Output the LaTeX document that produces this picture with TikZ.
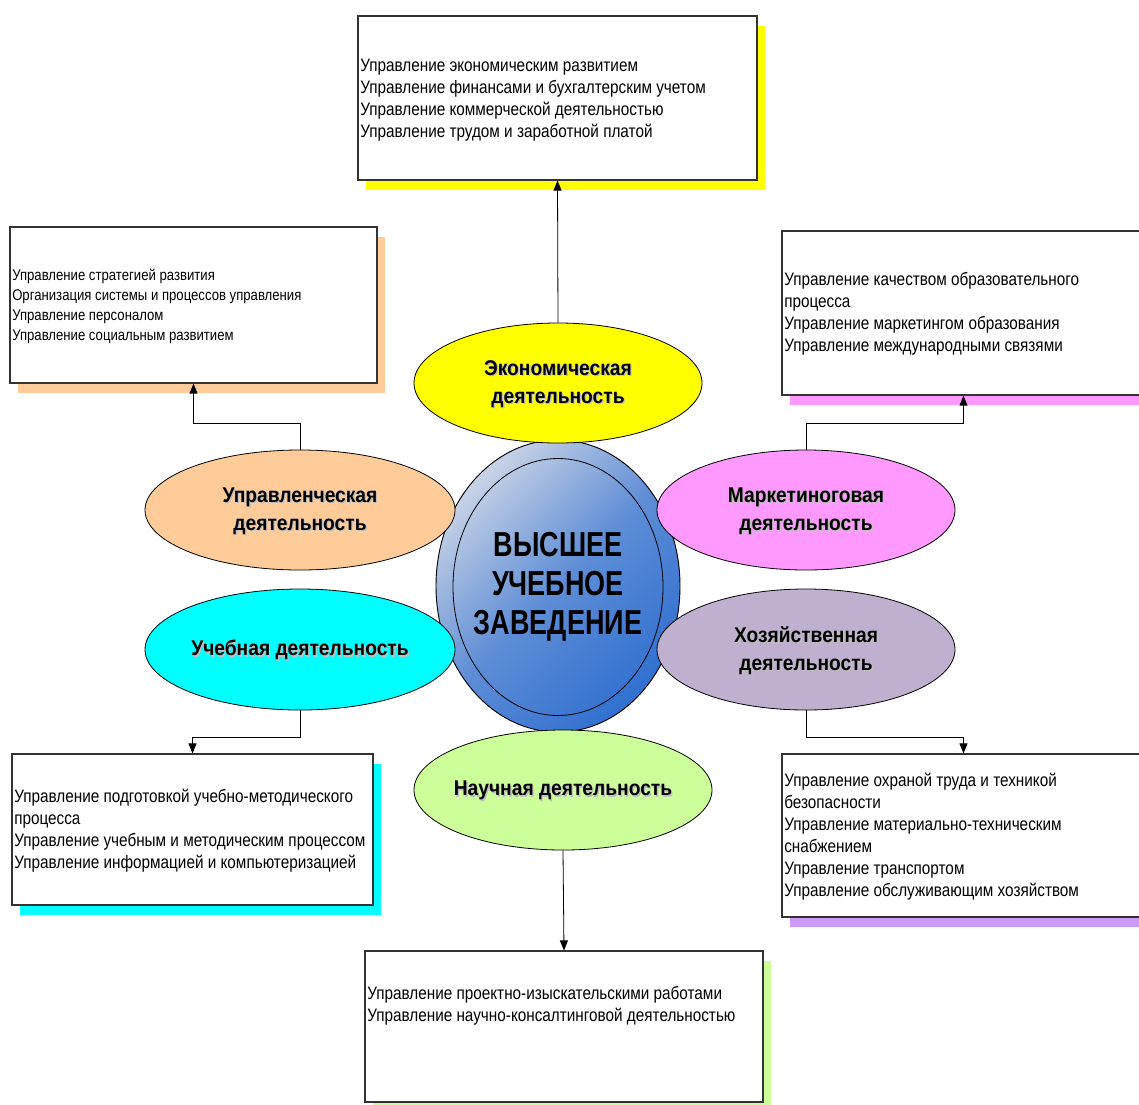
\documentclass[tikz,border=0pt]{standalone}
\usepackage{fontspec}
\setmainfont{Liberation Sans}[FakeStretch=0.85]
\newfontfamily\labelfont{Liberation Sans}[FakeStretch=0.9]
\newfontfamily\titlefont{Liberation Sans}[FakeStretch=0.78]
\usetikzlibrary{shapes.geometric,arrows.meta,shadows}

\newlength\pxu
\setlength\pxu{0.75pt}

\definecolor{econfill}{HTML}{FFFF00}
\definecolor{mgmtfill}{HTML}{FFCC99}
\definecolor{mktfill}{HTML}{FF99FF}
\definecolor{studyfill}{HTML}{00FFFF}
\definecolor{housefill}{HTML}{BFB0D0}
\definecolor{houseshadow}{HTML}{CC99FF}
\definecolor{scifill}{HTML}{CCFF99}
\definecolor{heilight}{HTML}{C8D3E6}
\definecolor{heimid}{HTML}{5E8DD6}
\definecolor{heidark}{HTML}{3170D0}

% centred line of zero width, so the ellipse keeps its own size
\newcommand\midline[1]{\makebox[0pt]{#1}}
% bold label line with a faint grey drop behind it
\newcommand\shadowed[1]{\makebox[0pt]{\rlap{\kern1pt\raisebox{-1pt}{\color{black!25}#1}}#1}}

\tikzset{
  infobox/.style={rectangle, draw=black!80, line width=0.9pt, fill=white, inner sep=0pt,
    drop shadow={fill=#1, opacity=1, shadow xshift=6pt, shadow yshift=-7.5pt}},
  boxtext/.style={anchor=west, align=left, inner sep=0pt,
    font=\fontsize{13.5}{16.5}\selectfont},
  smalltext/.style={anchor=west, align=left, inner sep=0pt,
    font=\fontsize{11.6}{15}\selectfont},
  activity/.style={ellipse, draw=black, line width=0.6pt, fill=#1, inner sep=0pt,
    align=center, font=\labelfont\bfseries\fontsize{16}{21}\selectfont},
  actlabel/.style={align=center, inner sep=0pt,
    font=\labelfont\bfseries\fontsize{16}{21}\selectfont},
  link/.style={draw=black, line width=0.6pt, -{Triangle[length=7.5pt,width=6pt]}}
}

\begin{document}
\begin{tikzpicture}[x=0.75pt,y=-0.75pt]
\useasboundingbox (0,0) rectangle (1139,1104);
\clip (0,0) rectangle (1139,1104);

% ---- information boxes ----
\node[infobox=econfill, minimum width=399\pxu, minimum height=164\pxu] (econbox) at (557.5,98) {};
\node[boxtext] (econtext) at (360,100) {Управление экономическим развитием\\
Управление финансами и бухгалтерским учетом\\
Управление коммерческой деятельностью\\
Управление трудом и заработной платой};

\node[infobox=mgmtfill, minimum width=367\pxu, minimum height=156\pxu] (mgmtbox) at (193.5,305) {};
\node[smalltext] (mgmttext) at (12,306) {Управление стратегией развития\\
Организация системы и процессов управления\\
Управление персоналом\\
Управление социальным развитием};

\node[infobox=mktfill, minimum width=363\pxu, minimum height=164\pxu] (mktbox) at (963.5,313) {};
\node[boxtext] (mkttext) at (784,314) {Управление качеством образовательного\\
процесса\\
Управление маркетингом образования\\
Управление международными связями};

\node[infobox=studyfill, minimum width=361\pxu, minimum height=151\pxu] (studybox) at (192.5,829.5) {};
\node[boxtext] (studytext) at (14,830.5) {Управление подготовкой учебно-методического\\
процесса\\
Управление учебным и методическим процессом\\
Управление информацией и компьютеризацией};

\node[infobox=houseshadow, minimum width=363\pxu, minimum height=163\pxu] (housebox) at (963.5,835.5) {};
\node[boxtext] (housetext) at (784,837) {Управление охраной труда и техникой\\
безопасности\\
Управление материально-техническим\\
снабжением\\
Управление транспортом\\
Управление обслуживающим хозяйством};

\node[infobox=scifill, minimum width=398\pxu, minimum height=151\pxu] (scibox) at (564,1026.5) {};
\node[boxtext] (scitext) at (367,1005.5) {Управление проектно-изыскательскими работами\\
Управление научно-консалтинговой деятельностью};

% ---- central institution ----
\node[ellipse, draw=black, line width=0.7pt, minimum width=244\pxu, minimum height=292\pxu,
  inner sep=0pt, top color=heilight, bottom color=heidark, middle color=heimid,
  shading angle=45] (hei) at (558,586) {};
\node[ellipse, draw=black, line width=0.6pt, minimum width=210\pxu, minimum height=257\pxu,
  inner sep=0pt, align=center, font=\titlefont\bfseries\fontsize{26}{29.3}\selectfont]
  (heiinner) at (558,587) {\midline{ВЫСШЕЕ}\\\midline{УЧЕБНОЕ}\\\midline{ЗАВЕДЕНИЕ}};

% ---- activities ----
\node[activity=econfill, minimum width=288\pxu, minimum height=120\pxu] (econ) at (558,383) {};
\node[activity=mgmtfill, minimum width=310\pxu, minimum height=120\pxu] (mgmt) at (300,510) {};
\node[activity=mktfill, minimum width=298\pxu, minimum height=120\pxu] (mkt) at (806,510) {};
\node[activity=studyfill, minimum width=310\pxu, minimum height=121\pxu] (study) at (300,649.5) {};
\node[activity=housefill, minimum width=298\pxu, minimum height=121\pxu] (house) at (806,649.5) {};
\node[activity=scifill, minimum width=298\pxu, minimum height=120\pxu] (sci) at (563,790) {};

\node[actlabel] (econlabel) at ([yshift=-1.5pt]econ.center)
  {\shadowed{Экономическая}\\\shadowed{деятельность}};
\node[actlabel] (mgmtlabel) at ([yshift=-1.5pt]mgmt.center)
  {\shadowed{Управленческая}\\\shadowed{деятельность}};
\node[actlabel] (mktlabel) at ([yshift=-1.5pt]mkt.center)
  {\shadowed{Маркетиноговая}\\\shadowed{деятельность}};
\node[actlabel] (studylabel) at ([yshift=-1pt]study.center)
  {\shadowed{Учебная деятельность}};
\node[actlabel] (houselabel) at ([yshift=-1.5pt]house.center)
  {\shadowed{Хозяйственная}\\\shadowed{деятельность}};
\node[actlabel] (scilabel) at ([yshift=-1pt]sci.center)
  {\shadowed{Научная деятельность}};

% ---- connectors ----
\draw[link] (econ.north) -- (econbox.south);
\draw[link] (mgmt.north) -- ++(0,-26) -| (mgmtbox.south);
\draw[link] (mkt.north) -- ++(0,-26) -| (mktbox.south);
\draw[link] (study.south) -- ++(0,27) -| (studybox.north);
\draw[link] (house.south) -- ++(0,27) -| (housebox.north);
\draw[link] (sci.south) -- (scibox.north);
\end{tikzpicture}
\end{document}
